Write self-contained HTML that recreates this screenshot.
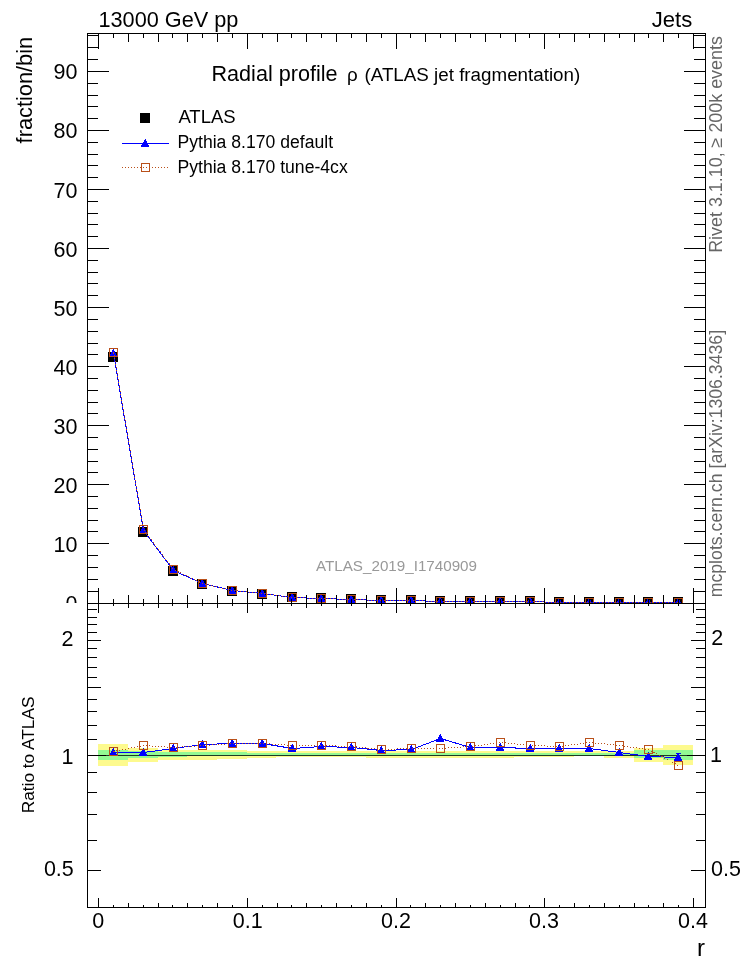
<!DOCTYPE html>
<html><head><meta charset="utf-8"><style>
html,body{margin:0;padding:0;background:#fff;}
svg{display:block;}
</style></head><body>
<svg width="746" height="972" viewBox="0 0 746 972">
<defs>
<clipPath id="ctop"><rect x="88" y="34" width="617" height="569"/></clipPath>
<clipPath id="cbot"><rect x="88" y="604" width="617" height="303"/></clipPath>
<clipPath id="cpadtop"><rect x="0" y="0" width="746" height="603"/></clipPath>
</defs>
<rect x="0" y="0" width="746" height="972" fill="#fff"/>
<g shape-rendering="crispEdges">
<g clip-path="url(#ctop)">
<rect x="108" y="352" width="10" height="10" fill="#000"/>
<rect x="138" y="527" width="10" height="10" fill="#000"/>
<rect x="168" y="566" width="10" height="10" fill="#000"/>
<rect x="197" y="579" width="10" height="10" fill="#000"/>
<rect x="227" y="586" width="10" height="10" fill="#000"/>
<rect x="257" y="589" width="10" height="10" fill="#000"/>
<rect x="287" y="592" width="10" height="10" fill="#000"/>
<rect x="316" y="593" width="10" height="10" fill="#000"/>
<rect x="346" y="594" width="10" height="10" fill="#000"/>
<rect x="376" y="595" width="10" height="10" fill="#000"/>
<rect x="406" y="595" width="10" height="10" fill="#000"/>
<rect x="435" y="596" width="10" height="10" fill="#000"/>
<rect x="465" y="596" width="10" height="10" fill="#000"/>
<rect x="495" y="596" width="10" height="10" fill="#000"/>
<rect x="525" y="596" width="10" height="10" fill="#000"/>
<rect x="554" y="597" width="10" height="10" fill="#000"/>
<rect x="584" y="597" width="10" height="10" fill="#000"/>
<rect x="614" y="597" width="10" height="10" fill="#000"/>
<rect x="643" y="597" width="10" height="10" fill="#000"/>
<rect x="673" y="597" width="10" height="10" fill="#000"/>
<polyline points="113.5,353.5 143.5,530.5 173.5,570.5 202.5,583.5 232.5,590.5 262.5,593.5 292.5,597.5 321.5,598.5 351.5,599.5 381.5,600.5 411.5,600.5 440.5,601.5 470.5,601.5 500.5,601.5 530.5,601.5 559.5,602.5 589.5,602.5 619.5,602.5 648.5,602.5 678.5,602.5" fill="none" stroke="#0000ff" stroke-width="1" shape-rendering="crispEdges"/>
<path d="M113,349h1v1h-1zM112,350h2v1h-2zM112,351h3v1h-3zM111,352h4v1h-4zM111,353h5v1h-5zM110,354h6v1h-6zM109,355h8v1h-8zM109,356h8v1h-8z" fill="#0000ff"/>
<path d="M143,526h1v1h-1zM142,527h2v1h-2zM142,528h3v1h-3zM141,529h4v1h-4zM141,530h5v1h-5zM140,531h6v1h-6zM139,532h8v1h-8zM139,533h8v1h-8z" fill="#0000ff"/>
<path d="M173,566h1v1h-1zM172,567h2v1h-2zM172,568h3v1h-3zM171,569h4v1h-4zM171,570h5v1h-5zM170,571h6v1h-6zM169,572h8v1h-8zM169,573h8v1h-8z" fill="#0000ff"/>
<path d="M202,579h1v1h-1zM201,580h2v1h-2zM201,581h3v1h-3zM200,582h4v1h-4zM200,583h5v1h-5zM199,584h6v1h-6zM198,585h8v1h-8zM198,586h8v1h-8z" fill="#0000ff"/>
<path d="M232,586h1v1h-1zM231,587h2v1h-2zM231,588h3v1h-3zM230,589h4v1h-4zM230,590h5v1h-5zM229,591h6v1h-6zM228,592h8v1h-8zM228,593h8v1h-8z" fill="#0000ff"/>
<path d="M262,589h1v1h-1zM261,590h2v1h-2zM261,591h3v1h-3zM260,592h4v1h-4zM260,593h5v1h-5zM259,594h6v1h-6zM258,595h8v1h-8zM258,596h8v1h-8z" fill="#0000ff"/>
<path d="M292,593h1v1h-1zM291,594h2v1h-2zM291,595h3v1h-3zM290,596h4v1h-4zM290,597h5v1h-5zM289,598h6v1h-6zM288,599h8v1h-8zM288,600h8v1h-8z" fill="#0000ff"/>
<path d="M321,594h1v1h-1zM320,595h2v1h-2zM320,596h3v1h-3zM319,597h4v1h-4zM319,598h5v1h-5zM318,599h6v1h-6zM317,600h8v1h-8zM317,601h8v1h-8z" fill="#0000ff"/>
<path d="M351,595h1v1h-1zM350,596h2v1h-2zM350,597h3v1h-3zM349,598h4v1h-4zM349,599h5v1h-5zM348,600h6v1h-6zM347,601h8v1h-8zM347,602h8v1h-8z" fill="#0000ff"/>
<path d="M381,596h1v1h-1zM380,597h2v1h-2zM380,598h3v1h-3zM379,599h4v1h-4zM379,600h5v1h-5zM378,601h6v1h-6zM377,602h8v1h-8zM377,603h8v1h-8z" fill="#0000ff"/>
<path d="M411,596h1v1h-1zM410,597h2v1h-2zM410,598h3v1h-3zM409,599h4v1h-4zM409,600h5v1h-5zM408,601h6v1h-6zM407,602h8v1h-8zM407,603h8v1h-8z" fill="#0000ff"/>
<path d="M440,597h1v1h-1zM439,598h2v1h-2zM439,599h3v1h-3zM438,600h4v1h-4zM438,601h5v1h-5zM437,602h6v1h-6zM436,603h8v1h-8zM436,604h8v1h-8z" fill="#0000ff"/>
<path d="M470,597h1v1h-1zM469,598h2v1h-2zM469,599h3v1h-3zM468,600h4v1h-4zM468,601h5v1h-5zM467,602h6v1h-6zM466,603h8v1h-8zM466,604h8v1h-8z" fill="#0000ff"/>
<path d="M500,597h1v1h-1zM499,598h2v1h-2zM499,599h3v1h-3zM498,600h4v1h-4zM498,601h5v1h-5zM497,602h6v1h-6zM496,603h8v1h-8zM496,604h8v1h-8z" fill="#0000ff"/>
<path d="M530,597h1v1h-1zM529,598h2v1h-2zM529,599h3v1h-3zM528,600h4v1h-4zM528,601h5v1h-5zM527,602h6v1h-6zM526,603h8v1h-8zM526,604h8v1h-8z" fill="#0000ff"/>
<path d="M559,598h1v1h-1zM558,599h2v1h-2zM558,600h3v1h-3zM557,601h4v1h-4zM557,602h5v1h-5zM556,603h6v1h-6zM555,604h8v1h-8zM555,605h8v1h-8z" fill="#0000ff"/>
<path d="M589,598h1v1h-1zM588,599h2v1h-2zM588,600h3v1h-3zM587,601h4v1h-4zM587,602h5v1h-5zM586,603h6v1h-6zM585,604h8v1h-8zM585,605h8v1h-8z" fill="#0000ff"/>
<path d="M619,598h1v1h-1zM618,599h2v1h-2zM618,600h3v1h-3zM617,601h4v1h-4zM617,602h5v1h-5zM616,603h6v1h-6zM615,604h8v1h-8zM615,605h8v1h-8z" fill="#0000ff"/>
<path d="M648,598h1v1h-1zM647,599h2v1h-2zM647,600h3v1h-3zM646,601h4v1h-4zM646,602h5v1h-5zM645,603h6v1h-6zM644,604h8v1h-8zM644,605h8v1h-8z" fill="#0000ff"/>
<path d="M678,598h1v1h-1zM677,599h2v1h-2zM677,600h3v1h-3zM676,601h4v1h-4zM676,602h5v1h-5zM675,603h6v1h-6zM674,604h8v1h-8zM674,605h8v1h-8z" fill="#0000ff"/>
<polyline points="113.5,352.5 143.5,529.5 173.5,569.5 202.5,583.5 232.5,590.5 262.5,593.5 292.5,597.5 321.5,598.5 351.5,599.5 381.5,600.5 411.5,600.5 440.5,601.5 470.5,601.5 500.5,601.5 530.5,601.5 559.5,602.5 589.5,602.5 619.5,602.5 648.5,602.5 678.5,602.5" fill="none" stroke="#b9501a" stroke-width="1" stroke-dasharray="1 2" shape-rendering="crispEdges"/>
<rect x="109.5" y="348.5" width="8" height="8" fill="none" stroke="#b9501a" stroke-width="1"/>
<rect x="139.5" y="525.5" width="8" height="8" fill="none" stroke="#b9501a" stroke-width="1"/>
<rect x="169.5" y="565.5" width="8" height="8" fill="none" stroke="#b9501a" stroke-width="1"/>
<rect x="198.5" y="579.5" width="8" height="8" fill="none" stroke="#b9501a" stroke-width="1"/>
<rect x="228.5" y="586.5" width="8" height="8" fill="none" stroke="#b9501a" stroke-width="1"/>
<rect x="258.5" y="589.5" width="8" height="8" fill="none" stroke="#b9501a" stroke-width="1"/>
<rect x="288.5" y="593.5" width="8" height="8" fill="none" stroke="#b9501a" stroke-width="1"/>
<rect x="317.5" y="594.5" width="8" height="8" fill="none" stroke="#b9501a" stroke-width="1"/>
<rect x="347.5" y="595.5" width="8" height="8" fill="none" stroke="#b9501a" stroke-width="1"/>
<rect x="377.5" y="596.5" width="8" height="8" fill="none" stroke="#b9501a" stroke-width="1"/>
<rect x="407.5" y="596.5" width="8" height="8" fill="none" stroke="#b9501a" stroke-width="1"/>
<rect x="436.5" y="597.5" width="8" height="8" fill="none" stroke="#b9501a" stroke-width="1"/>
<rect x="466.5" y="597.5" width="8" height="8" fill="none" stroke="#b9501a" stroke-width="1"/>
<rect x="496.5" y="597.5" width="8" height="8" fill="none" stroke="#b9501a" stroke-width="1"/>
<rect x="526.5" y="597.5" width="8" height="8" fill="none" stroke="#b9501a" stroke-width="1"/>
<rect x="555.5" y="598.5" width="8" height="8" fill="none" stroke="#b9501a" stroke-width="1"/>
<rect x="585.5" y="598.5" width="8" height="8" fill="none" stroke="#b9501a" stroke-width="1"/>
<rect x="615.5" y="598.5" width="8" height="8" fill="none" stroke="#b9501a" stroke-width="1"/>
<rect x="644.5" y="598.5" width="8" height="8" fill="none" stroke="#b9501a" stroke-width="1"/>
<rect x="674.5" y="598.5" width="8" height="8" fill="none" stroke="#b9501a" stroke-width="1"/>
</g>
<g clip-path="url(#cbot)">
<rect x="98" y="744" width="30" height="22" fill="#fdfa8e"/>
<rect x="128" y="748" width="30" height="14" fill="#fdfa8e"/>
<rect x="158" y="750" width="29" height="10" fill="#fdfa8e"/>
<rect x="187" y="750" width="30" height="10" fill="#fdfa8e"/>
<rect x="217" y="750" width="30" height="9" fill="#fdfa8e"/>
<rect x="247" y="751" width="29" height="7" fill="#fdfa8e"/>
<rect x="276" y="751" width="30" height="6" fill="#fdfa8e"/>
<rect x="306" y="751" width="30" height="6" fill="#fdfa8e"/>
<rect x="336" y="751" width="30" height="6" fill="#fdfa8e"/>
<rect x="366" y="751" width="30" height="7" fill="#fdfa8e"/>
<rect x="396" y="751" width="29" height="7" fill="#fdfa8e"/>
<rect x="425" y="751" width="30" height="7" fill="#fdfa8e"/>
<rect x="455" y="751" width="30" height="7" fill="#fdfa8e"/>
<rect x="485" y="751" width="29" height="7" fill="#fdfa8e"/>
<rect x="514" y="751" width="30" height="6" fill="#fdfa8e"/>
<rect x="544" y="751" width="30" height="6" fill="#fdfa8e"/>
<rect x="574" y="751" width="30" height="5" fill="#fdfa8e"/>
<rect x="604" y="751" width="30" height="7" fill="#fdfa8e"/>
<rect x="634" y="748" width="29" height="14" fill="#fdfa8e"/>
<rect x="663" y="745" width="30" height="20" fill="#fdfa8e"/>
<rect x="98" y="750" width="30" height="10" fill="#93f993"/>
<rect x="128" y="751" width="30" height="7" fill="#93f993"/>
<rect x="158" y="752" width="29" height="5" fill="#93f993"/>
<rect x="187" y="752" width="30" height="4" fill="#93f993"/>
<rect x="217" y="752" width="30" height="4" fill="#93f993"/>
<rect x="247" y="753" width="29" height="3" fill="#93f993"/>
<rect x="276" y="753" width="30" height="3" fill="#93f993"/>
<rect x="306" y="753" width="30" height="3" fill="#93f993"/>
<rect x="336" y="753" width="30" height="3" fill="#93f993"/>
<rect x="366" y="753" width="30" height="3" fill="#93f993"/>
<rect x="396" y="753" width="29" height="2" fill="#93f993"/>
<rect x="425" y="753" width="30" height="2" fill="#93f993"/>
<rect x="455" y="753" width="30" height="2" fill="#93f993"/>
<rect x="485" y="753" width="29" height="2" fill="#93f993"/>
<rect x="514" y="753" width="30" height="3" fill="#93f993"/>
<rect x="544" y="753" width="30" height="3" fill="#93f993"/>
<rect x="574" y="753" width="30" height="3" fill="#93f993"/>
<rect x="604" y="753" width="30" height="2" fill="#93f993"/>
<rect x="634" y="750" width="29" height="8" fill="#93f993"/>
<rect x="663" y="750" width="30" height="10" fill="#93f993"/>
<rect x="98" y="755" width="596" height="1" fill="#1f3a22"/>
<polyline points="113.5,752.5 143.5,752.5 173.5,748.5 202.5,744.5 232.5,743.5 262.5,743.5 292.5,748.5 321.5,746.5 351.5,747.5 381.5,750.5 411.5,749.5 440.5,738.5 470.5,747.5 500.5,747.5 530.5,748.5 559.5,748.5 589.5,748.5 619.5,752.5 648.5,756.5 678.5,757.5" fill="none" stroke="#0000ff" stroke-width="1" shape-rendering="crispEdges"/>
<path d="M113,748h1v1h-1zM112,749h2v1h-2zM112,750h3v1h-3zM111,751h4v1h-4zM111,752h5v1h-5zM110,753h6v1h-6zM109,754h8v1h-8zM109,755h8v1h-8z" fill="#0000ff"/>
<path d="M143,748h1v1h-1zM142,749h2v1h-2zM142,750h3v1h-3zM141,751h4v1h-4zM141,752h5v1h-5zM140,753h6v1h-6zM139,754h8v1h-8zM139,755h8v1h-8z" fill="#0000ff"/>
<path d="M173,744h1v1h-1zM172,745h2v1h-2zM172,746h3v1h-3zM171,747h4v1h-4zM171,748h5v1h-5zM170,749h6v1h-6zM169,750h8v1h-8zM169,751h8v1h-8z" fill="#0000ff"/>
<path d="M202,740h1v1h-1zM201,741h2v1h-2zM201,742h3v1h-3zM200,743h4v1h-4zM200,744h5v1h-5zM199,745h6v1h-6zM198,746h8v1h-8zM198,747h8v1h-8z" fill="#0000ff"/>
<path d="M232,739h1v1h-1zM231,740h2v1h-2zM231,741h3v1h-3zM230,742h4v1h-4zM230,743h5v1h-5zM229,744h6v1h-6zM228,745h8v1h-8zM228,746h8v1h-8z" fill="#0000ff"/>
<path d="M262,739h1v1h-1zM261,740h2v1h-2zM261,741h3v1h-3zM260,742h4v1h-4zM260,743h5v1h-5zM259,744h6v1h-6zM258,745h8v1h-8zM258,746h8v1h-8z" fill="#0000ff"/>
<path d="M292,744h1v1h-1zM291,745h2v1h-2zM291,746h3v1h-3zM290,747h4v1h-4zM290,748h5v1h-5zM289,749h6v1h-6zM288,750h8v1h-8zM288,751h8v1h-8z" fill="#0000ff"/>
<path d="M321,742h1v1h-1zM320,743h2v1h-2zM320,744h3v1h-3zM319,745h4v1h-4zM319,746h5v1h-5zM318,747h6v1h-6zM317,748h8v1h-8zM317,749h8v1h-8z" fill="#0000ff"/>
<path d="M351,743h1v1h-1zM350,744h2v1h-2zM350,745h3v1h-3zM349,746h4v1h-4zM349,747h5v1h-5zM348,748h6v1h-6zM347,749h8v1h-8zM347,750h8v1h-8z" fill="#0000ff"/>
<path d="M381,746h1v1h-1zM380,747h2v1h-2zM380,748h3v1h-3zM379,749h4v1h-4zM379,750h5v1h-5zM378,751h6v1h-6zM377,752h8v1h-8zM377,753h8v1h-8z" fill="#0000ff"/>
<path d="M411,745h1v1h-1zM410,746h2v1h-2zM410,747h3v1h-3zM409,748h4v1h-4zM409,749h5v1h-5zM408,750h6v1h-6zM407,751h8v1h-8zM407,752h8v1h-8z" fill="#0000ff"/>
<path d="M440,734h1v1h-1zM439,735h2v1h-2zM439,736h3v1h-3zM438,737h4v1h-4zM438,738h5v1h-5zM437,739h6v1h-6zM436,740h8v1h-8zM436,741h8v1h-8z" fill="#0000ff"/>
<path d="M470,743h1v1h-1zM469,744h2v1h-2zM469,745h3v1h-3zM468,746h4v1h-4zM468,747h5v1h-5zM467,748h6v1h-6zM466,749h8v1h-8zM466,750h8v1h-8z" fill="#0000ff"/>
<path d="M500,743h1v1h-1zM499,744h2v1h-2zM499,745h3v1h-3zM498,746h4v1h-4zM498,747h5v1h-5zM497,748h6v1h-6zM496,749h8v1h-8zM496,750h8v1h-8z" fill="#0000ff"/>
<path d="M530,744h1v1h-1zM529,745h2v1h-2zM529,746h3v1h-3zM528,747h4v1h-4zM528,748h5v1h-5zM527,749h6v1h-6zM526,750h8v1h-8zM526,751h8v1h-8z" fill="#0000ff"/>
<path d="M559,744h1v1h-1zM558,745h2v1h-2zM558,746h3v1h-3zM557,747h4v1h-4zM557,748h5v1h-5zM556,749h6v1h-6zM555,750h8v1h-8zM555,751h8v1h-8z" fill="#0000ff"/>
<path d="M589,744h1v1h-1zM588,745h2v1h-2zM588,746h3v1h-3zM587,747h4v1h-4zM587,748h5v1h-5zM586,749h6v1h-6zM585,750h8v1h-8zM585,751h8v1h-8z" fill="#0000ff"/>
<path d="M619,748h1v1h-1zM618,749h2v1h-2zM618,750h3v1h-3zM617,751h4v1h-4zM617,752h5v1h-5zM616,753h6v1h-6zM615,754h8v1h-8zM615,755h8v1h-8z" fill="#0000ff"/>
<path d="M648,752h1v1h-1zM647,753h2v1h-2zM647,754h3v1h-3zM646,755h4v1h-4zM646,756h5v1h-5zM645,757h6v1h-6zM644,758h8v1h-8zM644,759h8v1h-8z" fill="#0000ff"/>
<path d="M678,753h1v1h-1zM677,754h2v1h-2zM677,755h3v1h-3zM676,756h4v1h-4zM676,757h5v1h-5zM675,758h6v1h-6zM674,759h8v1h-8zM674,760h8v1h-8z" fill="#0000ff"/>
<rect x="676" y="753" width="5" height="1" fill="#0000ff"/>
<rect x="678" y="753" width="1" height="3" fill="#0000ff"/>
<polyline points="113.5,751.5 143.5,745.5 173.5,747.5 202.5,745.5 232.5,743.5 262.5,743.5 292.5,745.5 321.5,745.5 351.5,746.5 381.5,749.5 411.5,748.5 440.5,748.5 470.5,746.5 500.5,742.5 530.5,745.5 559.5,746.5 589.5,742.5 619.5,745.5 648.5,749.5 678.5,765.5" fill="none" stroke="#b9501a" stroke-width="1" stroke-dasharray="1 2" shape-rendering="crispEdges"/>
<rect x="109.5" y="747.5" width="8" height="8" fill="none" stroke="#b9501a" stroke-width="1"/>
<rect x="139.5" y="741.5" width="8" height="8" fill="none" stroke="#b9501a" stroke-width="1"/>
<rect x="169.5" y="743.5" width="8" height="8" fill="none" stroke="#b9501a" stroke-width="1"/>
<rect x="198.5" y="741.5" width="8" height="8" fill="none" stroke="#b9501a" stroke-width="1"/>
<rect x="228.5" y="739.5" width="8" height="8" fill="none" stroke="#b9501a" stroke-width="1"/>
<rect x="258.5" y="739.5" width="8" height="8" fill="none" stroke="#b9501a" stroke-width="1"/>
<rect x="288.5" y="741.5" width="8" height="8" fill="none" stroke="#b9501a" stroke-width="1"/>
<rect x="317.5" y="741.5" width="8" height="8" fill="none" stroke="#b9501a" stroke-width="1"/>
<rect x="347.5" y="742.5" width="8" height="8" fill="none" stroke="#b9501a" stroke-width="1"/>
<rect x="377.5" y="745.5" width="8" height="8" fill="none" stroke="#b9501a" stroke-width="1"/>
<rect x="407.5" y="744.5" width="8" height="8" fill="none" stroke="#b9501a" stroke-width="1"/>
<rect x="436.5" y="744.5" width="8" height="8" fill="none" stroke="#b9501a" stroke-width="1"/>
<rect x="466.5" y="742.5" width="8" height="8" fill="none" stroke="#b9501a" stroke-width="1"/>
<rect x="496.5" y="738.5" width="8" height="8" fill="none" stroke="#b9501a" stroke-width="1"/>
<rect x="526.5" y="741.5" width="8" height="8" fill="none" stroke="#b9501a" stroke-width="1"/>
<rect x="555.5" y="742.5" width="8" height="8" fill="none" stroke="#b9501a" stroke-width="1"/>
<rect x="585.5" y="738.5" width="8" height="8" fill="none" stroke="#b9501a" stroke-width="1"/>
<rect x="615.5" y="741.5" width="8" height="8" fill="none" stroke="#b9501a" stroke-width="1"/>
<rect x="644.5" y="745.5" width="8" height="8" fill="none" stroke="#b9501a" stroke-width="1"/>
<rect x="674.5" y="761.5" width="8" height="8" fill="none" stroke="#b9501a" stroke-width="1"/>
</g>
<rect x="87" y="33" width="619" height="1" fill="#000"/>
<rect x="87" y="33" width="1" height="571" fill="#000"/>
<rect x="705" y="33" width="1" height="571" fill="#000"/>
<rect x="87" y="603" width="619" height="1" fill="#000"/>
<rect x="87" y="603" width="1" height="305" fill="#000"/>
<rect x="705" y="603" width="1" height="305" fill="#000"/>
<rect x="87" y="907" width="619" height="1" fill="#000"/>
<rect x="98" y="33" width="1" height="16" fill="#000"/>
<rect x="98" y="588" width="1" height="16" fill="#000"/>
<rect x="98" y="603" width="1" height="10" fill="#000"/>
<rect x="98" y="898" width="1" height="10" fill="#000"/>
<rect x="113" y="33" width="1" height="5" fill="#000"/>
<rect x="113" y="599" width="1" height="5" fill="#000"/>
<rect x="113" y="603" width="1" height="3" fill="#000"/>
<rect x="113" y="905" width="1" height="3" fill="#000"/>
<rect x="128" y="33" width="1" height="9" fill="#000"/>
<rect x="128" y="595" width="1" height="9" fill="#000"/>
<rect x="128" y="603" width="1" height="5" fill="#000"/>
<rect x="128" y="903" width="1" height="5" fill="#000"/>
<rect x="143" y="33" width="1" height="5" fill="#000"/>
<rect x="143" y="599" width="1" height="5" fill="#000"/>
<rect x="143" y="603" width="1" height="3" fill="#000"/>
<rect x="143" y="905" width="1" height="3" fill="#000"/>
<rect x="158" y="33" width="1" height="9" fill="#000"/>
<rect x="158" y="595" width="1" height="9" fill="#000"/>
<rect x="158" y="603" width="1" height="5" fill="#000"/>
<rect x="158" y="903" width="1" height="5" fill="#000"/>
<rect x="172" y="33" width="1" height="5" fill="#000"/>
<rect x="172" y="599" width="1" height="5" fill="#000"/>
<rect x="172" y="603" width="1" height="3" fill="#000"/>
<rect x="172" y="905" width="1" height="3" fill="#000"/>
<rect x="187" y="33" width="1" height="9" fill="#000"/>
<rect x="187" y="595" width="1" height="9" fill="#000"/>
<rect x="187" y="603" width="1" height="5" fill="#000"/>
<rect x="187" y="903" width="1" height="5" fill="#000"/>
<rect x="202" y="33" width="1" height="5" fill="#000"/>
<rect x="202" y="599" width="1" height="5" fill="#000"/>
<rect x="202" y="603" width="1" height="3" fill="#000"/>
<rect x="202" y="905" width="1" height="3" fill="#000"/>
<rect x="217" y="33" width="1" height="9" fill="#000"/>
<rect x="217" y="595" width="1" height="9" fill="#000"/>
<rect x="217" y="603" width="1" height="5" fill="#000"/>
<rect x="217" y="903" width="1" height="5" fill="#000"/>
<rect x="232" y="33" width="1" height="5" fill="#000"/>
<rect x="232" y="599" width="1" height="5" fill="#000"/>
<rect x="232" y="603" width="1" height="3" fill="#000"/>
<rect x="232" y="905" width="1" height="3" fill="#000"/>
<rect x="247" y="33" width="1" height="16" fill="#000"/>
<rect x="247" y="588" width="1" height="16" fill="#000"/>
<rect x="247" y="603" width="1" height="10" fill="#000"/>
<rect x="247" y="898" width="1" height="10" fill="#000"/>
<rect x="262" y="33" width="1" height="5" fill="#000"/>
<rect x="262" y="599" width="1" height="5" fill="#000"/>
<rect x="262" y="603" width="1" height="3" fill="#000"/>
<rect x="262" y="905" width="1" height="3" fill="#000"/>
<rect x="277" y="33" width="1" height="9" fill="#000"/>
<rect x="277" y="595" width="1" height="9" fill="#000"/>
<rect x="277" y="603" width="1" height="5" fill="#000"/>
<rect x="277" y="903" width="1" height="5" fill="#000"/>
<rect x="291" y="33" width="1" height="5" fill="#000"/>
<rect x="291" y="599" width="1" height="5" fill="#000"/>
<rect x="291" y="603" width="1" height="3" fill="#000"/>
<rect x="291" y="905" width="1" height="3" fill="#000"/>
<rect x="306" y="33" width="1" height="9" fill="#000"/>
<rect x="306" y="595" width="1" height="9" fill="#000"/>
<rect x="306" y="603" width="1" height="5" fill="#000"/>
<rect x="306" y="903" width="1" height="5" fill="#000"/>
<rect x="321" y="33" width="1" height="5" fill="#000"/>
<rect x="321" y="599" width="1" height="5" fill="#000"/>
<rect x="321" y="603" width="1" height="3" fill="#000"/>
<rect x="321" y="905" width="1" height="3" fill="#000"/>
<rect x="336" y="33" width="1" height="9" fill="#000"/>
<rect x="336" y="595" width="1" height="9" fill="#000"/>
<rect x="336" y="603" width="1" height="5" fill="#000"/>
<rect x="336" y="903" width="1" height="5" fill="#000"/>
<rect x="351" y="33" width="1" height="5" fill="#000"/>
<rect x="351" y="599" width="1" height="5" fill="#000"/>
<rect x="351" y="603" width="1" height="3" fill="#000"/>
<rect x="351" y="905" width="1" height="3" fill="#000"/>
<rect x="366" y="33" width="1" height="9" fill="#000"/>
<rect x="366" y="595" width="1" height="9" fill="#000"/>
<rect x="366" y="603" width="1" height="5" fill="#000"/>
<rect x="366" y="903" width="1" height="5" fill="#000"/>
<rect x="381" y="33" width="1" height="5" fill="#000"/>
<rect x="381" y="599" width="1" height="5" fill="#000"/>
<rect x="381" y="603" width="1" height="3" fill="#000"/>
<rect x="381" y="905" width="1" height="3" fill="#000"/>
<rect x="396" y="33" width="1" height="16" fill="#000"/>
<rect x="396" y="588" width="1" height="16" fill="#000"/>
<rect x="396" y="603" width="1" height="10" fill="#000"/>
<rect x="396" y="898" width="1" height="10" fill="#000"/>
<rect x="410" y="33" width="1" height="5" fill="#000"/>
<rect x="410" y="599" width="1" height="5" fill="#000"/>
<rect x="410" y="603" width="1" height="3" fill="#000"/>
<rect x="410" y="905" width="1" height="3" fill="#000"/>
<rect x="425" y="33" width="1" height="9" fill="#000"/>
<rect x="425" y="595" width="1" height="9" fill="#000"/>
<rect x="425" y="603" width="1" height="5" fill="#000"/>
<rect x="425" y="903" width="1" height="5" fill="#000"/>
<rect x="440" y="33" width="1" height="5" fill="#000"/>
<rect x="440" y="599" width="1" height="5" fill="#000"/>
<rect x="440" y="603" width="1" height="3" fill="#000"/>
<rect x="440" y="905" width="1" height="3" fill="#000"/>
<rect x="455" y="33" width="1" height="9" fill="#000"/>
<rect x="455" y="595" width="1" height="9" fill="#000"/>
<rect x="455" y="603" width="1" height="5" fill="#000"/>
<rect x="455" y="903" width="1" height="5" fill="#000"/>
<rect x="470" y="33" width="1" height="5" fill="#000"/>
<rect x="470" y="599" width="1" height="5" fill="#000"/>
<rect x="470" y="603" width="1" height="3" fill="#000"/>
<rect x="470" y="905" width="1" height="3" fill="#000"/>
<rect x="485" y="33" width="1" height="9" fill="#000"/>
<rect x="485" y="595" width="1" height="9" fill="#000"/>
<rect x="485" y="603" width="1" height="5" fill="#000"/>
<rect x="485" y="903" width="1" height="5" fill="#000"/>
<rect x="500" y="33" width="1" height="5" fill="#000"/>
<rect x="500" y="599" width="1" height="5" fill="#000"/>
<rect x="500" y="603" width="1" height="3" fill="#000"/>
<rect x="500" y="905" width="1" height="3" fill="#000"/>
<rect x="515" y="33" width="1" height="9" fill="#000"/>
<rect x="515" y="595" width="1" height="9" fill="#000"/>
<rect x="515" y="603" width="1" height="5" fill="#000"/>
<rect x="515" y="903" width="1" height="5" fill="#000"/>
<rect x="529" y="33" width="1" height="5" fill="#000"/>
<rect x="529" y="599" width="1" height="5" fill="#000"/>
<rect x="529" y="603" width="1" height="3" fill="#000"/>
<rect x="529" y="905" width="1" height="3" fill="#000"/>
<rect x="544" y="33" width="1" height="16" fill="#000"/>
<rect x="544" y="588" width="1" height="16" fill="#000"/>
<rect x="544" y="603" width="1" height="10" fill="#000"/>
<rect x="544" y="898" width="1" height="10" fill="#000"/>
<rect x="559" y="33" width="1" height="5" fill="#000"/>
<rect x="559" y="599" width="1" height="5" fill="#000"/>
<rect x="559" y="603" width="1" height="3" fill="#000"/>
<rect x="559" y="905" width="1" height="3" fill="#000"/>
<rect x="574" y="33" width="1" height="9" fill="#000"/>
<rect x="574" y="595" width="1" height="9" fill="#000"/>
<rect x="574" y="603" width="1" height="5" fill="#000"/>
<rect x="574" y="903" width="1" height="5" fill="#000"/>
<rect x="589" y="33" width="1" height="5" fill="#000"/>
<rect x="589" y="599" width="1" height="5" fill="#000"/>
<rect x="589" y="603" width="1" height="3" fill="#000"/>
<rect x="589" y="905" width="1" height="3" fill="#000"/>
<rect x="604" y="33" width="1" height="9" fill="#000"/>
<rect x="604" y="595" width="1" height="9" fill="#000"/>
<rect x="604" y="603" width="1" height="5" fill="#000"/>
<rect x="604" y="903" width="1" height="5" fill="#000"/>
<rect x="619" y="33" width="1" height="5" fill="#000"/>
<rect x="619" y="599" width="1" height="5" fill="#000"/>
<rect x="619" y="603" width="1" height="3" fill="#000"/>
<rect x="619" y="905" width="1" height="3" fill="#000"/>
<rect x="634" y="33" width="1" height="9" fill="#000"/>
<rect x="634" y="595" width="1" height="9" fill="#000"/>
<rect x="634" y="603" width="1" height="5" fill="#000"/>
<rect x="634" y="903" width="1" height="5" fill="#000"/>
<rect x="648" y="33" width="1" height="5" fill="#000"/>
<rect x="648" y="599" width="1" height="5" fill="#000"/>
<rect x="648" y="603" width="1" height="3" fill="#000"/>
<rect x="648" y="905" width="1" height="3" fill="#000"/>
<rect x="663" y="33" width="1" height="9" fill="#000"/>
<rect x="663" y="595" width="1" height="9" fill="#000"/>
<rect x="663" y="603" width="1" height="5" fill="#000"/>
<rect x="663" y="903" width="1" height="5" fill="#000"/>
<rect x="678" y="33" width="1" height="5" fill="#000"/>
<rect x="678" y="599" width="1" height="5" fill="#000"/>
<rect x="678" y="603" width="1" height="3" fill="#000"/>
<rect x="678" y="905" width="1" height="3" fill="#000"/>
<rect x="693" y="33" width="1" height="16" fill="#000"/>
<rect x="693" y="588" width="1" height="16" fill="#000"/>
<rect x="693" y="603" width="1" height="10" fill="#000"/>
<rect x="693" y="898" width="1" height="10" fill="#000"/>
<rect x="88" y="591" width="10" height="1" fill="#000"/>
<rect x="694" y="591" width="11" height="1" fill="#000"/>
<rect x="88" y="579" width="10" height="1" fill="#000"/>
<rect x="694" y="579" width="11" height="1" fill="#000"/>
<rect x="88" y="567" width="10" height="1" fill="#000"/>
<rect x="694" y="567" width="11" height="1" fill="#000"/>
<rect x="88" y="555" width="10" height="1" fill="#000"/>
<rect x="694" y="555" width="11" height="1" fill="#000"/>
<rect x="88" y="543" width="21" height="1" fill="#000"/>
<rect x="684" y="543" width="21" height="1" fill="#000"/>
<rect x="88" y="531" width="10" height="1" fill="#000"/>
<rect x="694" y="531" width="11" height="1" fill="#000"/>
<rect x="88" y="520" width="10" height="1" fill="#000"/>
<rect x="694" y="520" width="11" height="1" fill="#000"/>
<rect x="88" y="508" width="10" height="1" fill="#000"/>
<rect x="694" y="508" width="11" height="1" fill="#000"/>
<rect x="88" y="496" width="10" height="1" fill="#000"/>
<rect x="694" y="496" width="11" height="1" fill="#000"/>
<rect x="88" y="484" width="21" height="1" fill="#000"/>
<rect x="684" y="484" width="21" height="1" fill="#000"/>
<rect x="88" y="472" width="10" height="1" fill="#000"/>
<rect x="694" y="472" width="11" height="1" fill="#000"/>
<rect x="88" y="461" width="10" height="1" fill="#000"/>
<rect x="694" y="461" width="11" height="1" fill="#000"/>
<rect x="88" y="449" width="10" height="1" fill="#000"/>
<rect x="694" y="449" width="11" height="1" fill="#000"/>
<rect x="88" y="437" width="10" height="1" fill="#000"/>
<rect x="694" y="437" width="11" height="1" fill="#000"/>
<rect x="88" y="425" width="21" height="1" fill="#000"/>
<rect x="684" y="425" width="21" height="1" fill="#000"/>
<rect x="88" y="413" width="10" height="1" fill="#000"/>
<rect x="694" y="413" width="11" height="1" fill="#000"/>
<rect x="88" y="402" width="10" height="1" fill="#000"/>
<rect x="694" y="402" width="11" height="1" fill="#000"/>
<rect x="88" y="390" width="10" height="1" fill="#000"/>
<rect x="694" y="390" width="11" height="1" fill="#000"/>
<rect x="88" y="378" width="10" height="1" fill="#000"/>
<rect x="694" y="378" width="11" height="1" fill="#000"/>
<rect x="88" y="366" width="21" height="1" fill="#000"/>
<rect x="684" y="366" width="21" height="1" fill="#000"/>
<rect x="88" y="354" width="10" height="1" fill="#000"/>
<rect x="694" y="354" width="11" height="1" fill="#000"/>
<rect x="88" y="343" width="10" height="1" fill="#000"/>
<rect x="694" y="343" width="11" height="1" fill="#000"/>
<rect x="88" y="331" width="10" height="1" fill="#000"/>
<rect x="694" y="331" width="11" height="1" fill="#000"/>
<rect x="88" y="319" width="10" height="1" fill="#000"/>
<rect x="694" y="319" width="11" height="1" fill="#000"/>
<rect x="88" y="307" width="21" height="1" fill="#000"/>
<rect x="684" y="307" width="21" height="1" fill="#000"/>
<rect x="88" y="295" width="10" height="1" fill="#000"/>
<rect x="694" y="295" width="11" height="1" fill="#000"/>
<rect x="88" y="283" width="10" height="1" fill="#000"/>
<rect x="694" y="283" width="11" height="1" fill="#000"/>
<rect x="88" y="272" width="10" height="1" fill="#000"/>
<rect x="694" y="272" width="11" height="1" fill="#000"/>
<rect x="88" y="260" width="10" height="1" fill="#000"/>
<rect x="694" y="260" width="11" height="1" fill="#000"/>
<rect x="88" y="248" width="21" height="1" fill="#000"/>
<rect x="684" y="248" width="21" height="1" fill="#000"/>
<rect x="88" y="236" width="10" height="1" fill="#000"/>
<rect x="694" y="236" width="11" height="1" fill="#000"/>
<rect x="88" y="224" width="10" height="1" fill="#000"/>
<rect x="694" y="224" width="11" height="1" fill="#000"/>
<rect x="88" y="213" width="10" height="1" fill="#000"/>
<rect x="694" y="213" width="11" height="1" fill="#000"/>
<rect x="88" y="201" width="10" height="1" fill="#000"/>
<rect x="694" y="201" width="11" height="1" fill="#000"/>
<rect x="88" y="189" width="21" height="1" fill="#000"/>
<rect x="684" y="189" width="21" height="1" fill="#000"/>
<rect x="88" y="177" width="10" height="1" fill="#000"/>
<rect x="694" y="177" width="11" height="1" fill="#000"/>
<rect x="88" y="165" width="10" height="1" fill="#000"/>
<rect x="694" y="165" width="11" height="1" fill="#000"/>
<rect x="88" y="154" width="10" height="1" fill="#000"/>
<rect x="694" y="154" width="11" height="1" fill="#000"/>
<rect x="88" y="142" width="10" height="1" fill="#000"/>
<rect x="694" y="142" width="11" height="1" fill="#000"/>
<rect x="88" y="130" width="21" height="1" fill="#000"/>
<rect x="684" y="130" width="21" height="1" fill="#000"/>
<rect x="88" y="118" width="10" height="1" fill="#000"/>
<rect x="694" y="118" width="11" height="1" fill="#000"/>
<rect x="88" y="106" width="10" height="1" fill="#000"/>
<rect x="694" y="106" width="11" height="1" fill="#000"/>
<rect x="88" y="95" width="10" height="1" fill="#000"/>
<rect x="694" y="95" width="11" height="1" fill="#000"/>
<rect x="88" y="83" width="10" height="1" fill="#000"/>
<rect x="694" y="83" width="11" height="1" fill="#000"/>
<rect x="88" y="71" width="21" height="1" fill="#000"/>
<rect x="684" y="71" width="21" height="1" fill="#000"/>
<rect x="88" y="59" width="10" height="1" fill="#000"/>
<rect x="694" y="59" width="11" height="1" fill="#000"/>
<rect x="88" y="47" width="10" height="1" fill="#000"/>
<rect x="694" y="47" width="11" height="1" fill="#000"/>
<rect x="88" y="35" width="10" height="1" fill="#000"/>
<rect x="694" y="35" width="11" height="1" fill="#000"/>
<rect x="88" y="870" width="13" height="1" fill="#000"/>
<rect x="691" y="870" width="14" height="1" fill="#000"/>
<rect x="88" y="840" width="9" height="1" fill="#000"/>
<rect x="696" y="840" width="9" height="1" fill="#000"/>
<rect x="88" y="814" width="9" height="1" fill="#000"/>
<rect x="696" y="814" width="9" height="1" fill="#000"/>
<rect x="88" y="792" width="9" height="1" fill="#000"/>
<rect x="696" y="792" width="9" height="1" fill="#000"/>
<rect x="88" y="772" width="9" height="1" fill="#000"/>
<rect x="696" y="772" width="9" height="1" fill="#000"/>
<rect x="88" y="755" width="18" height="1" fill="#000"/>
<rect x="687" y="755" width="18" height="1" fill="#000"/>
<rect x="88" y="739" width="9" height="1" fill="#000"/>
<rect x="696" y="739" width="9" height="1" fill="#000"/>
<rect x="88" y="725" width="9" height="1" fill="#000"/>
<rect x="696" y="725" width="9" height="1" fill="#000"/>
<rect x="88" y="711" width="9" height="1" fill="#000"/>
<rect x="696" y="711" width="9" height="1" fill="#000"/>
<rect x="88" y="699" width="9" height="1" fill="#000"/>
<rect x="696" y="699" width="9" height="1" fill="#000"/>
<rect x="88" y="687" width="13" height="1" fill="#000"/>
<rect x="691" y="687" width="14" height="1" fill="#000"/>
<rect x="88" y="677" width="9" height="1" fill="#000"/>
<rect x="696" y="677" width="9" height="1" fill="#000"/>
<rect x="88" y="667" width="9" height="1" fill="#000"/>
<rect x="696" y="667" width="9" height="1" fill="#000"/>
<rect x="88" y="657" width="9" height="1" fill="#000"/>
<rect x="696" y="657" width="9" height="1" fill="#000"/>
<rect x="88" y="648" width="9" height="1" fill="#000"/>
<rect x="696" y="648" width="9" height="1" fill="#000"/>
<rect x="88" y="640" width="13" height="1" fill="#000"/>
<rect x="691" y="640" width="14" height="1" fill="#000"/>
<rect x="88" y="632" width="9" height="1" fill="#000"/>
<rect x="696" y="632" width="9" height="1" fill="#000"/>
<rect x="88" y="624" width="9" height="1" fill="#000"/>
<rect x="696" y="624" width="9" height="1" fill="#000"/>
<rect x="88" y="617" width="9" height="1" fill="#000"/>
<rect x="696" y="617" width="9" height="1" fill="#000"/>
<rect x="88" y="609" width="9" height="1" fill="#000"/>
<rect x="696" y="609" width="9" height="1" fill="#000"/>
<rect x="140" y="113" width="10" height="10" fill="#000"/>
<rect x="122" y="143" width="47" height="1" fill="#0000ff"/>
<path d="M145,139h1v1h-1zM144,140h2v1h-2zM144,141h3v1h-3zM143,142h4v1h-4zM143,143h5v1h-5zM142,144h6v1h-6zM141,145h8v1h-8zM141,146h8v1h-8z" fill="#0000ff"/>
<rect x="122" y="167" width="1" height="1" fill="#b9501a"/>
<rect x="125" y="167" width="1" height="1" fill="#b9501a"/>
<rect x="128" y="167" width="1" height="1" fill="#b9501a"/>
<rect x="131" y="167" width="1" height="1" fill="#b9501a"/>
<rect x="134" y="167" width="1" height="1" fill="#b9501a"/>
<rect x="137" y="167" width="1" height="1" fill="#b9501a"/>
<rect x="140" y="167" width="1" height="1" fill="#b9501a"/>
<rect x="143" y="167" width="1" height="1" fill="#b9501a"/>
<rect x="146" y="167" width="1" height="1" fill="#b9501a"/>
<rect x="149" y="167" width="1" height="1" fill="#b9501a"/>
<rect x="152" y="167" width="1" height="1" fill="#b9501a"/>
<rect x="155" y="167" width="1" height="1" fill="#b9501a"/>
<rect x="158" y="167" width="1" height="1" fill="#b9501a"/>
<rect x="161" y="167" width="1" height="1" fill="#b9501a"/>
<rect x="164" y="167" width="1" height="1" fill="#b9501a"/>
<rect x="167" y="167" width="1" height="1" fill="#b9501a"/>
<rect x="141.5" y="163.5" width="8" height="8" fill="none" stroke="#b9501a" stroke-width="1"/>
</g>
<g font-family="'Liberation Sans', Arial, Helvetica, sans-serif">
<g clip-path="url(#cpadtop)">
<text x="77.5" y="610.85" font-size="21.5" text-anchor="end">0</text><text x="77.5" y="551.80" font-size="21.5" text-anchor="end">10</text><text x="77.5" y="492.75" font-size="21.5" text-anchor="end">20</text><text x="77.5" y="433.70" font-size="21.5" text-anchor="end">30</text><text x="77.5" y="374.65" font-size="21.5" text-anchor="end">40</text><text x="77.5" y="315.60" font-size="21.5" text-anchor="end">50</text><text x="77.5" y="256.55" font-size="21.5" text-anchor="end">60</text><text x="77.5" y="197.50" font-size="21.5" text-anchor="end">70</text><text x="77.5" y="138.45" font-size="21.5" text-anchor="end">80</text><text x="77.5" y="79.40" font-size="21.5" text-anchor="end">90</text>
</g>
<text x="98.5" y="26.8" font-size="21.7" text-anchor="start" fill="#000">13000 GeV pp</text>
<text x="692.3" y="26.8" font-size="22.1" text-anchor="end" fill="#000">Jets</text>
<text x="32.3" y="36.8" font-size="21.8" text-anchor="end" fill="#000" transform="rotate(-90 32.3 36.8)">fraction/bin</text>
<text x="211.5" y="81" font-size="21.6" text-anchor="start" fill="#000">Radial profile</text>
<text x="347" y="80.6" font-size="18.8" text-anchor="start" fill="#000">&#961;</text>
<text x="364.5" y="80.6" font-size="18.8" text-anchor="start" fill="#000">(ATLAS jet fragmentation)</text>
<text x="178.4" y="122.5" font-size="18.5" text-anchor="start" fill="#000">ATLAS</text>
<text x="177.5" y="147.9" font-size="17.6" text-anchor="start" fill="#000">Pythia 8.170 default</text>
<text x="177.5" y="172.6" font-size="17.6" text-anchor="start" fill="#000">Pythia 8.170 tune-4cx</text>
<text x="722" y="252.8" font-size="17.9" text-anchor="start" fill="#666" transform="rotate(-90 722 252.8)">Rivet 3.1.10, &#8805; 200k events</text>
<text x="722.3" y="597.3" font-size="17.7" text-anchor="start" fill="#666" transform="rotate(-90 722.3 597.3)">mcplots.cern.ch [arXiv:1306.3436]</text>
<text x="316.0" y="570.6" font-size="15.2" text-anchor="start" fill="#999">ATLAS_2019_I1740909</text>
<text x="98.3" y="928.2" font-size="21.5" text-anchor="middle" fill="#000">0</text>
<text x="247.75" y="928.2" font-size="21.5" text-anchor="middle" fill="#000">0.1</text>
<text x="396.0" y="928.2" font-size="21.5" text-anchor="middle" fill="#000">0.2</text>
<text x="543.95" y="928.2" font-size="21.5" text-anchor="middle" fill="#000">0.3</text>
<text x="692.9" y="928.2" font-size="21.5" text-anchor="middle" fill="#000">0.4</text>
<text x="705.0" y="955.8" font-size="24" text-anchor="end" fill="#000">r</text>
<text x="34.5" y="754.9" font-size="17.3" text-anchor="middle" fill="#000" transform="rotate(-90 34.5 754.9)">Ratio to ATLAS</text>
<text x="73.5" y="646" font-size="21.5" text-anchor="end" fill="#000">2</text>
<text x="73.5" y="763.6" font-size="21.5" text-anchor="end" fill="#000">1</text>
<text x="73.8" y="876.3" font-size="21.5" text-anchor="end" fill="#000">0.5</text>
<text x="711.3" y="645.4" font-size="21.5" text-anchor="start" fill="#000">2</text>
<text x="710.0" y="761.5" font-size="21.5" text-anchor="start" fill="#000">1</text>
<text x="711.0" y="875.6" font-size="21.5" text-anchor="start" fill="#000">0.5</text>
</g>
</svg>
</body></html>
